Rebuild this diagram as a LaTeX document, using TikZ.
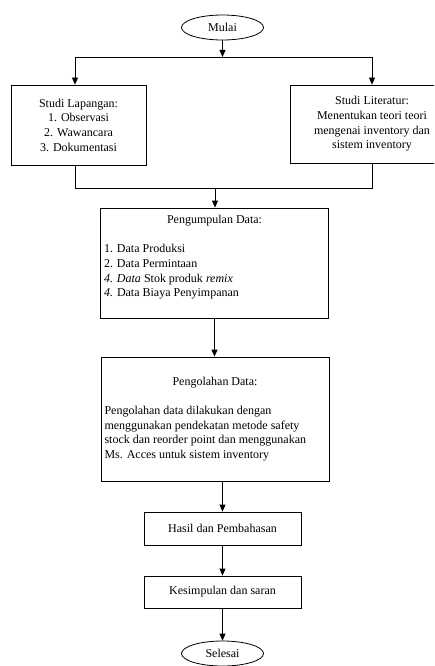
\documentclass[tikz,border=0pt]{standalone}
\usepackage{fontspec}
\setmainfont{Liberation Serif}
\usetikzlibrary{arrows.meta,shapes.geometric}
\begin{document}
\begin{tikzpicture}[x=1pt,y=-1pt,
  every node/.style={font=\fontsize{12}{14.7}\selectfont, inner sep=0pt},
  box/.style={draw, line width=0.8pt, rectangle},
  term/.style={draw, line width=0.8pt, ellipse, minimum width=82pt, minimum height=25pt},
  conn/.style={line width=0.8pt},
  arr/.style={line width=0.8pt, -{Triangle[length=7pt,width=6pt]}}]
\useasboundingbox (0,0) rectangle (434,666);
\clip (0,0) rectangle (434,666);
% terminals
\node[term] (mulai) at (222.5,27.5) {Mulai};
\node[term] (selesai) at (222.5,653.5) {Selesai};
% boxes
\node[box, minimum width=135pt, minimum height=80pt] (lap) at (78.5,125)
  {\parbox{130pt}{\centering Studi Lapangan:\\ 1. Observasi\\ 2. Wawancara\\ 3. Dokumentasi}};
\node[box, minimum width=164pt, minimum height=78pt] (lit) at (372,124)
  {\parbox{150pt}{\centering Studi Literatur:\\ Menentukan teori teori\\ mengenai inventory dan\\ sistem inventory}};
\node[box, minimum width=228pt, minimum height=110.5pt] (kumpul) at (214.5,263.25)
  {\parbox{221pt}{{\centering Pengumpulan Data:\par}\mbox{}\par
   1. Data Produksi\\ 2. Data Permintaan\\ \textit{4. Data} Stok produk \textit{remix}\\ \textit{4.} Data Biaya Penyimpanan\\ \mbox{}}};
\node[box, minimum width=228pt, minimum height=124pt] (olah) at (215,419)
  {\parbox{221pt}{{\centering Pengolahan Data:\par}\mbox{}\par
   Pengolahan data dilakukan dengan\\ menggunakan pendekatan metode safety\\ stock dan reorder point dan menggunakan\\ Ms. Acces untuk sistem inventory}};
\node[box, minimum width=157pt, minimum height=33pt] (hasil) at (222.5,528.5) {Hasil dan Pembahasan};
\node[box, minimum width=157pt, minimum height=32pt] (simpul) at (222.5,592) {Kesimpulan dan saran};
% junction coordinates
\coordinate (split) at (222.5,57);
\coordinate (jl) at (75,57);
\coordinate (jr) at (372,57);
\coordinate (ml) at (75,188);
\coordinate (mr) at (372,188);
\coordinate (mc) at (215,188);
% connectors
\draw[arr] (mulai.south) -- (split);
\draw[conn] (jl) -- (jr);
\draw[arr] (jl) -- (jl |- lap.north);
\draw[arr] (jr) -- (jr |- lit.north);
\draw[conn] (ml |- lap.south) -- (ml) -- (mr) -- (mr |- lit.south);
\draw[arr] (mc) -- (mc |- kumpul.north);
\draw[arr] (kumpul.south) -- (kumpul.south |- olah.north);
\draw[arr] (hasil.north |- olah.south) -- (hasil.north);
\draw[arr] (hasil.south) -- (simpul.north);
\draw[arr] (simpul.south) -- (selesai.north);
\end{tikzpicture}
\end{document}
